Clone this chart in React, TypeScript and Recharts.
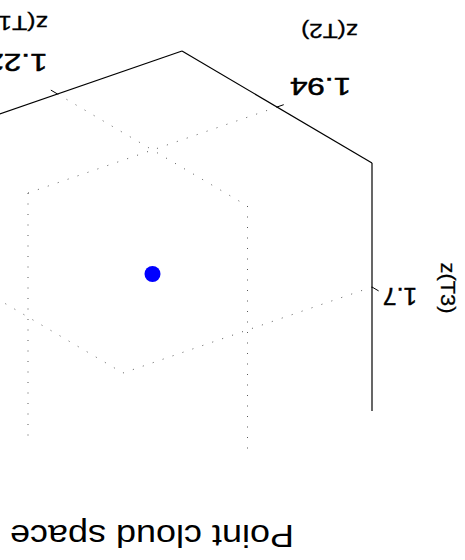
import React from 'react';
import { ScatterChart, Scatter, XAxis, YAxis, ReferenceLine } from 'recharts';

// one point in a three-axis cloud space
const pointT1 = [1.22];
const pointT2 = [1.94];
const pointT3 = [1.7];

const axisNames = ['z(T1)', 'z(T2)', 'z(T3)'];
const t1Limits = [1.21, 1.23];
const t2Limits = [1.93, 1.95];
const t3Limits = [1.69, 1.71];
const t1Ticks = [1.22];
const t2Ticks = [1.94];
const t3Ticks = [1.7];
const t1TickLabels = ['1.22'];
const t2TickLabels = ['1.94'];
const t3TickLabels = ['1.7'];

const title = 'Point cloud space';

const W = 465;
const H = 560;
const FONT = '"Liberation Sans", Arial, Helvetica, sans-serif';

// view projection (az -37.5, el 30 style box)
const ORIGIN = { x: 283, y: 509 };
const EX = { x: 249, y: -86 };
const EY = { x: -190, y: -112 };
const EZ = { x: 0, y: -248 };

const frac = (v: number, lim: number[]) => (v - lim[0]) / (lim[1] - lim[0]);

const project = (a: number, b: number, c: number) => {
  const fx = frac(a, t1Limits);
  const fy = frac(b, t2Limits);
  const fz = frac(c, t3Limits);
  return {
    x: ORIGIN.x + fx * EX.x + fy * EY.x + fz * EZ.x,
    y: ORIGIN.y + fx * EX.y + fy * EY.y + fz * EZ.y,
  };
};

const [x0, x1] = t1Limits;
const [y0, y1] = t2Limits;
const [z0, z1] = t3Limits;
const dx = x1 - x0;
const dy = y1 - y0;

const points = pointT1.map((v, i) => project(v, pointT2[i], pointT3[i]));

const axisLines = [
  [project(x0, y0, z0), project(x1, y0, z0)],
  [project(x0, y0, z0), project(x0, y1, z0)],
  [project(x0, y1, z0), project(x0, y1, z1)],
];

const tickMarks = [
  ...t1Ticks.map(t => [project(t, y0, z0), project(t, y0 - 0.035 * dy, z0)]),
  ...t2Ticks.map(t => [project(x0, t, z0), project(x0 - 0.027 * dx, t, z0)]),
  ...t3Ticks.map(t => [project(x0, y1, t), project(x0, y1 + 0.035 * dy, t)]),
];

const gridLines = [
  ...t1Ticks.flatMap(t => [
    [project(t, y0, z0), project(t, y1, z0)],
    [project(t, y1, z0), project(t, y1, z1)],
  ]),
  ...t2Ticks.flatMap(t => [
    [project(x0, t, z0), project(x1, t, z0)],
    [project(x1, t, z0), project(x1, t, z1)],
  ]),
  ...t3Ticks.flatMap(t => [
    [project(x0, y1, t), project(x1, y1, t)],
    [project(x1, y0, t), project(x1, y1, t)],
  ]),
];

const Dot = (props: any) => <circle cx={props.cx} cy={props.cy} r={8} fill="#0000ff" />;

const App = () => {
  const t1Pos = t1Ticks.map(t => project(t, y0, z0));
  const t2Pos = t2Ticks.map(t => project(x0, t, z0));
  const t3Pos = t3Ticks.map(t => project(x0, y1, t));

  return (
    <div
      style={{
        position: 'absolute',
        left: 0,
        top: 0,
        width: W,
        height: H,
        background: '#fff',
        transform: 'rotate(180deg)',
      }}
    >
      <ScatterChart width={W} height={H} margin={{ top: 0, right: 0, bottom: 0, left: 0 }}>
        <XAxis type="number" dataKey="x" domain={[0, W]} hide />
        <YAxis type="number" dataKey="y" domain={[0, H]} reversed hide />

        {gridLines.map((s, i) => (
          <ReferenceLine
            key={'g' + i}
            segment={s}
            ifOverflow="visible"
            stroke="#000"
            strokeOpacity={0.65}
            strokeWidth={1}
            strokeDasharray="1 9.5"
          />
        ))}
        {axisLines.map((s, i) => (
          <ReferenceLine key={'a' + i} segment={s} ifOverflow="visible" stroke="#000" strokeWidth={1.2} />
        ))}
        {tickMarks.map((s, i) => (
          <ReferenceLine key={'t' + i} segment={s} ifOverflow="visible" stroke="#000" strokeWidth={1} />
        ))}

        <Scatter data={points} shape={Dot} isAnimationActive={false} />

        <g fontFamily={FONT} fill="#000">
          <text x={171} y={35} fontSize={31} textLength={284} lengthAdjust="spacingAndGlyphs">
            {title}
          </text>
          <g stroke="#000" strokeWidth={0.5}>
            {t1Pos.map((p, i) => (
              <text key={'l1' + i} x={p.x + 10} y={p.y + 40} fontSize={24} textLength={61} lengthAdjust="spacingAndGlyphs">
                {t1TickLabels[i]}
              </text>
            ))}
            {t2Pos.map((p, i) => (
              <text key={'l2' + i} x={p.x - 74} y={p.y + 29} fontSize={24} textLength={61} lengthAdjust="spacingAndGlyphs">
                {t2TickLabels[i]}
              </text>
            ))}
            {t3Pos.map((p, i) => (
              <text key={'l3' + i} x={p.x - 45} y={p.y - 1} fontSize={24} textLength={34} lengthAdjust="spacingAndGlyphs">
                {t3TickLabels[i]}
              </text>
            ))}
          </g>
          <g stroke="#000" strokeWidth={0.3}>
            <text x={417} y={544} fontSize={21} textLength={58} lengthAdjust="spacingAndGlyphs">
              {axisNames[0]}
            </text>
            <text x={107} y={536} fontSize={21} textLength={57} lengthAdjust="spacingAndGlyphs">
              {axisNames[1]}
            </text>
            <text
              x={24}
              y={272}
              fontSize={21}
              textAnchor="middle"
              textLength={51}
              lengthAdjust="spacingAndGlyphs"
              transform="rotate(-90, 24, 272)"
            >
              {axisNames[2]}
            </text>
          </g>
        </g>
      </ScatterChart>
    </div>
  );
};

export default App;
